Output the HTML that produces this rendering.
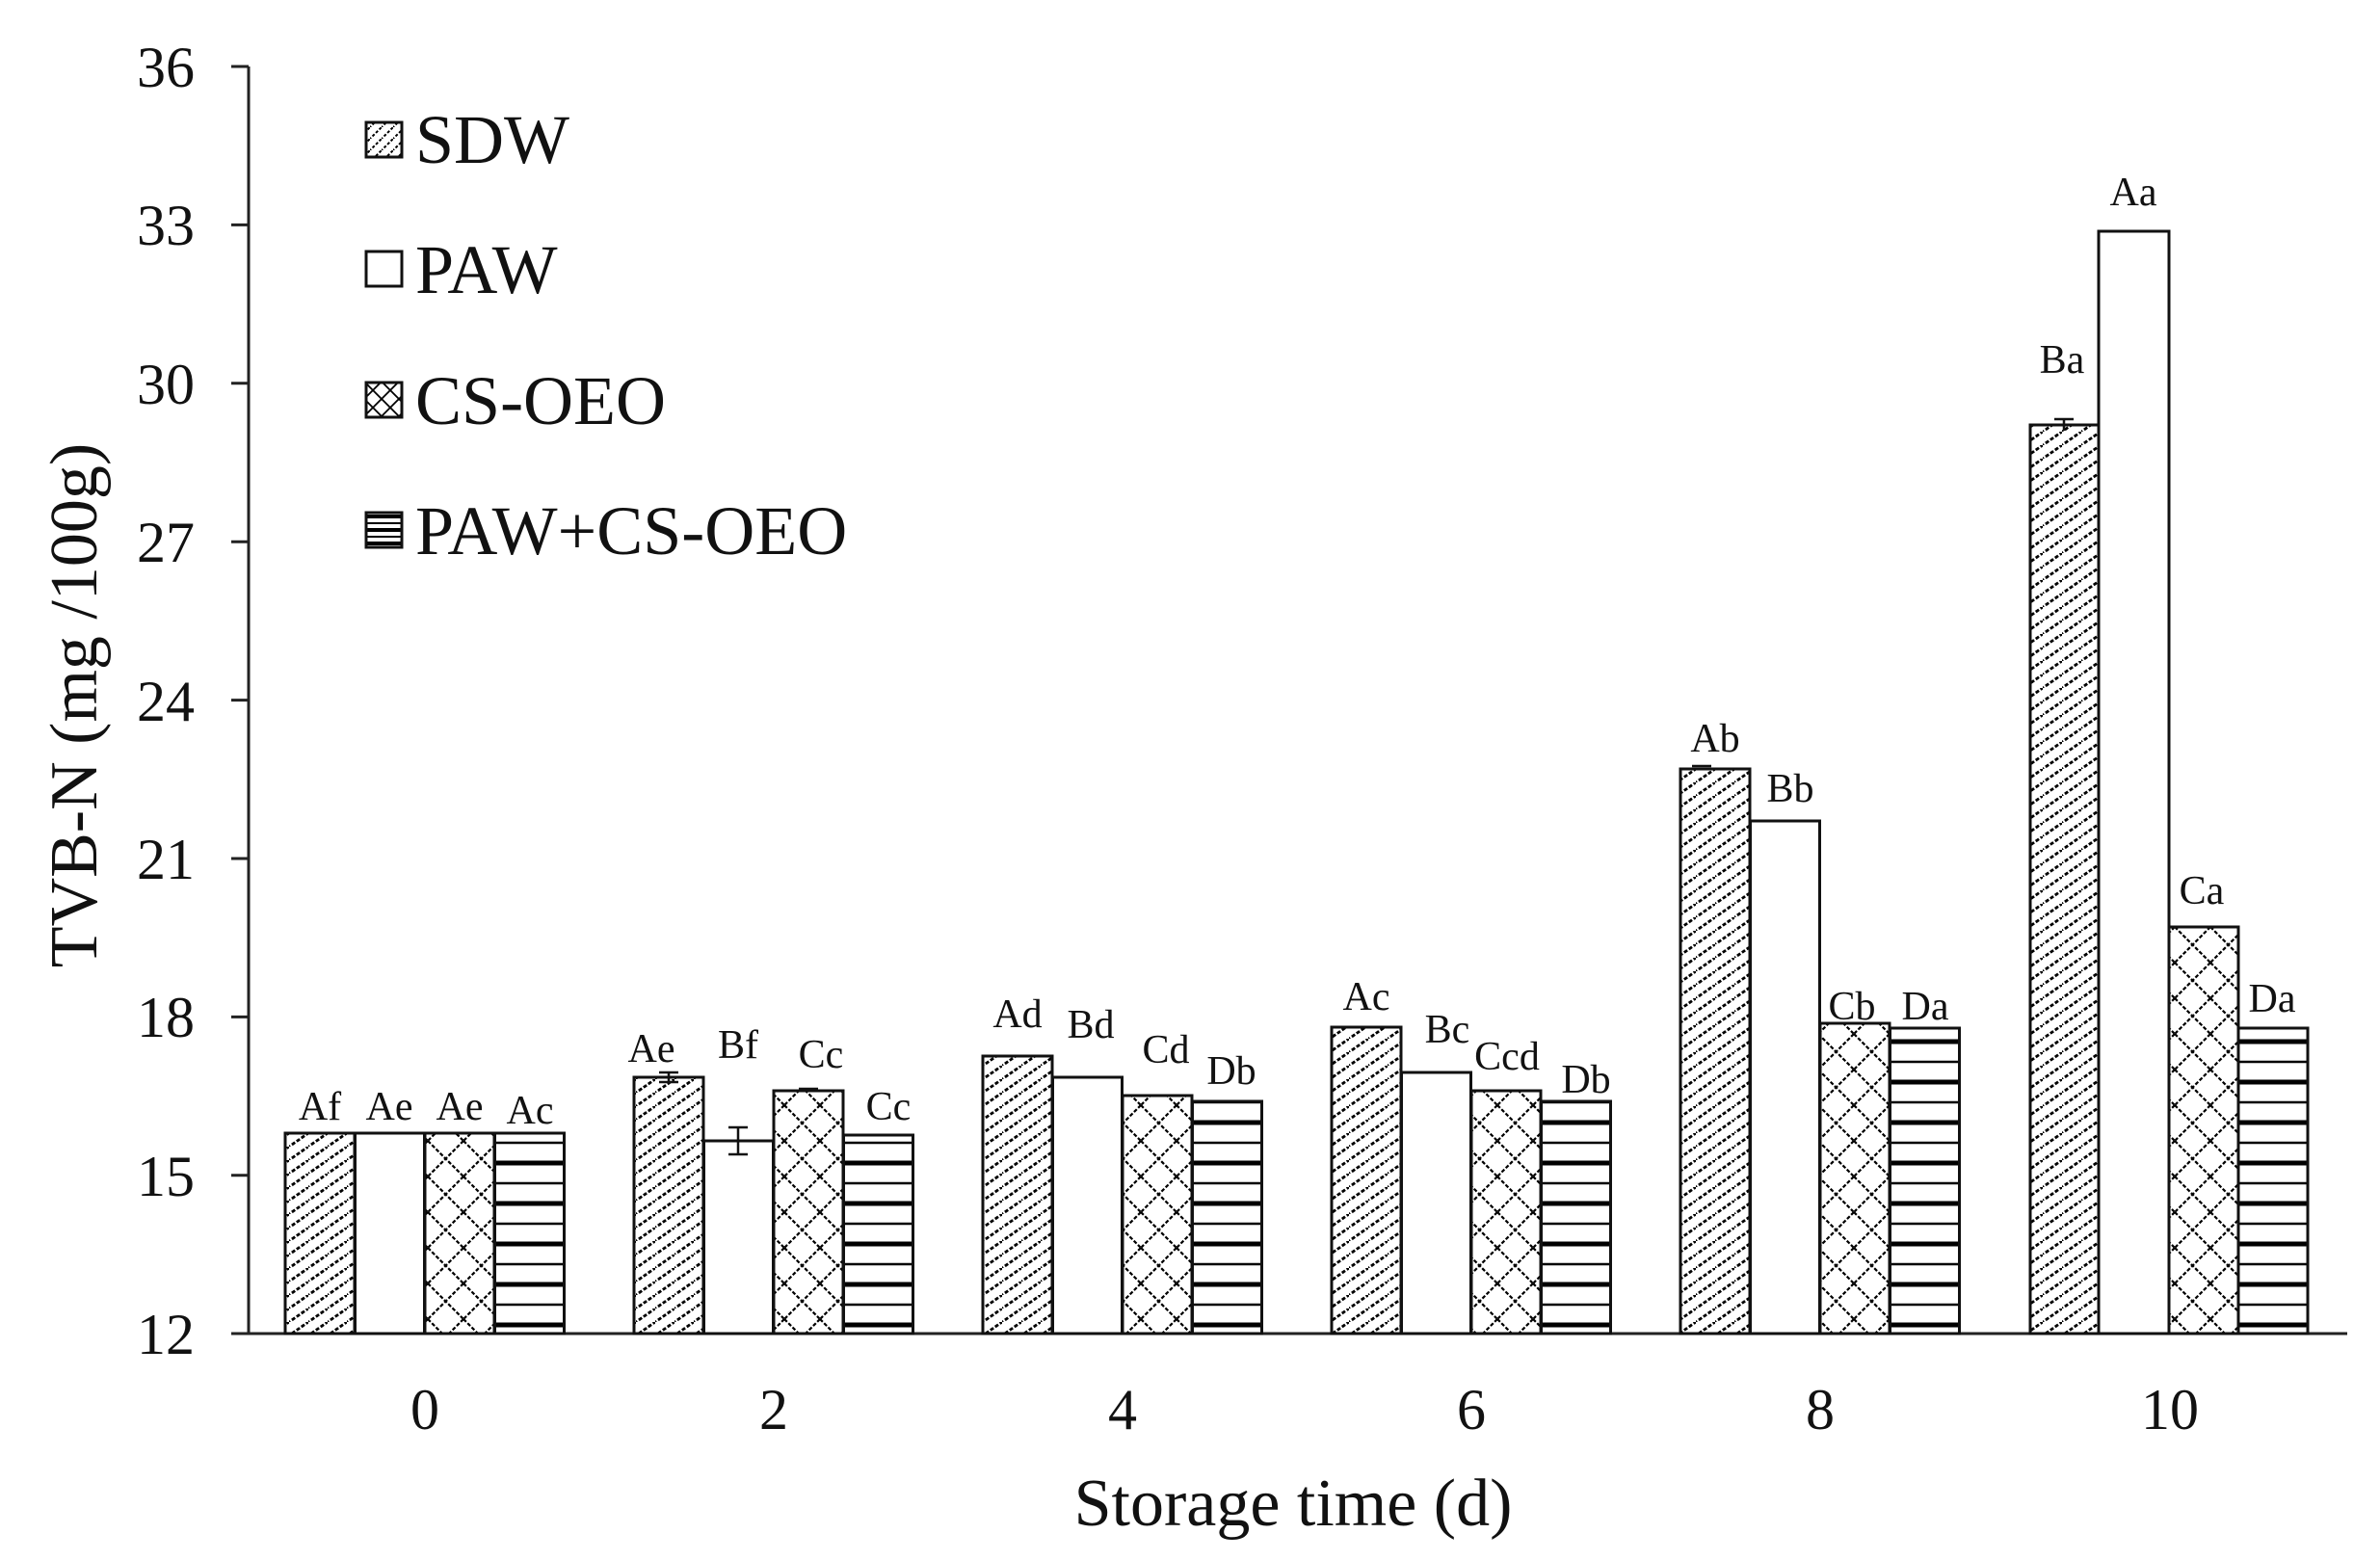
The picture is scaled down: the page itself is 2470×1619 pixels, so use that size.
<!DOCTYPE html>
<html><head><meta charset="utf-8"><style>
html,body{margin:0;padding:0;background:#fff;}
svg{display:block;font-family:"Liberation Serif",serif;}
</style></head><body>
<svg width="2470" height="1619" viewBox="0 0 2470 1619" xmlns="http://www.w3.org/2000/svg">
<defs>
<pattern id="diag" patternUnits="userSpaceOnUse" width="20" height="14">
<line x1="-2" y1="15.4" x2="22" y2="-1.4" stroke="#000" stroke-width="2.8" stroke-dasharray="4 2"/>
</pattern>
<pattern id="cross" patternUnits="userSpaceOnUse" width="37" height="37">
<line x1="0" y1="0" x2="37" y2="37" stroke="#000" stroke-width="2.2" stroke-dasharray="4 2"/>
<line x1="37" y1="0" x2="0" y2="37" stroke="#000" stroke-width="2.2" stroke-dasharray="4 2"/>
</pattern>
<pattern id="horiz" patternUnits="userSpaceOnUse" width="10" height="42">
<line x1="0" y1="10" x2="10" y2="10" stroke="#000" stroke-width="2.5"/>
<line x1="0" y1="31" x2="10" y2="31" stroke="#000" stroke-width="5"/>
</pattern>
<pattern id="ldiag" patternUnits="userSpaceOnUse" width="12" height="12">
<line x1="-1" y1="13" x2="13" y2="-1" stroke="#000" stroke-width="2" stroke-dasharray="3 2"/>
</pattern>
<pattern id="lcross" patternUnits="userSpaceOnUse" width="18" height="18">
<line x1="0" y1="0" x2="18" y2="18" stroke="#000" stroke-width="1.8"/>
<line x1="18" y1="0" x2="0" y2="18" stroke="#000" stroke-width="1.8"/>
</pattern>
<pattern id="lhoriz" patternUnits="userSpaceOnUse" width="10" height="14">
<line x1="0" y1="4" x2="10" y2="4" stroke="#000" stroke-width="4"/>
<line x1="0" y1="11" x2="10" y2="11" stroke="#000" stroke-width="2"/>
</pattern>
</defs>

<g stroke="#222" stroke-width="3" fill="none">
<line x1="258" y1="69" x2="258" y2="1384"/>
<line x1="240" y1="1384" x2="2436" y2="1384"/>
<line x1="240" y1="69" x2="258" y2="69"/>
<line x1="240" y1="233.4" x2="258" y2="233.4"/>
<line x1="240" y1="397.8" x2="258" y2="397.8"/>
<line x1="240" y1="562.2" x2="258" y2="562.2"/>
<line x1="240" y1="726.6" x2="258" y2="726.6"/>
<line x1="240" y1="891" x2="258" y2="891"/>
<line x1="240" y1="1055.4" x2="258" y2="1055.4"/>
<line x1="240" y1="1219.8" x2="258" y2="1219.8"/>
</g>
<g font-size="60" text-anchor="end" fill="#111">
<text x="202" y="90">36</text>
<text x="202" y="254">33</text>
<text x="202" y="419">30</text>
<text x="202" y="583">27</text>
<text x="202" y="748">24</text>
<text x="202" y="912">21</text>
<text x="202" y="1076">18</text>
<text x="202" y="1241">15</text>
<text x="202" y="1405">12</text>
</g>
<g font-size="60" text-anchor="middle" fill="#111">
<text x="441" y="1483">0</text>
<text x="803" y="1483">2</text>
<text x="1165" y="1483">4</text>
<text x="1527" y="1483">6</text>
<text x="1889" y="1483">8</text>
<text x="2252" y="1483">10</text>
</g>
<text x="1342" y="1583" font-size="70" text-anchor="middle" fill="#111">Storage time (d)</text>
<text transform="translate(100,732) rotate(-90)" font-size="70" text-anchor="middle" fill="#111">TVB-N (mg /100g)</text>

<g stroke="#111" stroke-width="3">
<rect x="296" y="1176" width="72" height="208" fill="url(#diag)"/>
<rect x="368.5" y="1176" width="72" height="208" fill="#fff"/>
<rect x="441" y="1176" width="72" height="208" fill="url(#cross)"/>
<rect x="513.5" y="1176" width="72" height="208" fill="url(#horiz)"/>
<rect x="658" y="1118" width="72" height="266" fill="url(#diag)"/>
<rect x="730.5" y="1184" width="72" height="200" fill="#fff"/>
<rect x="803" y="1132" width="72" height="252" fill="url(#cross)"/>
<rect x="875.5" y="1178" width="72" height="206" fill="url(#horiz)"/>
<rect x="1020" y="1096" width="72" height="288" fill="url(#diag)"/>
<rect x="1092.5" y="1118" width="72" height="266" fill="#fff"/>
<rect x="1165" y="1137" width="72" height="247" fill="url(#cross)"/>
<rect x="1237.5" y="1143" width="72" height="241" fill="url(#horiz)"/>
<rect x="1382" y="1066" width="72" height="318" fill="url(#diag)"/>
<rect x="1454.5" y="1113" width="72" height="271" fill="#fff"/>
<rect x="1527" y="1132" width="72" height="252" fill="url(#cross)"/>
<rect x="1599.5" y="1143" width="72" height="241" fill="url(#horiz)"/>
<rect x="1744" y="798" width="72" height="586" fill="url(#diag)"/>
<rect x="1816.5" y="852" width="72" height="532" fill="#fff"/>
<rect x="1889" y="1062" width="72" height="322" fill="url(#cross)"/>
<rect x="1961.5" y="1067" width="72" height="317" fill="url(#horiz)"/>
<rect x="2107" y="441" width="71" height="943" fill="url(#diag)"/>
<rect x="2178" y="240" width="73" height="1144" fill="#fff"/>
<rect x="2251" y="962" width="72" height="422" fill="url(#cross)"/>
<rect x="2323" y="1067" width="72" height="317" fill="url(#horiz)"/>
</g>
<g stroke="#111" stroke-width="2.5">
<line x1="684" y1="1113" x2="704" y2="1113"/><line x1="684" y1="1123" x2="704" y2="1123"/><line x1="694" y1="1113" x2="694" y2="1123"/>
<line x1="756" y1="1170" x2="776" y2="1170"/><line x1="756" y1="1198" x2="776" y2="1198"/><line x1="766" y1="1170" x2="766" y2="1198"/>
<line x1="829" y1="1130" x2="849" y2="1130"/>
<line x1="1756" y1="795" x2="1776" y2="795"/>
<line x1="2132" y1="435" x2="2152" y2="435"/><line x1="2142" y1="435" x2="2142" y2="447"/>
</g>

<g font-size="42" text-anchor="middle" fill="#111">
<text x="332" y="1162">Af</text>
<text x="404" y="1162">Ae</text>
<text x="477" y="1162">Ae</text>
<text x="550" y="1166">Ac</text>
<text x="676" y="1102">Ae</text>
<text x="766" y="1098">Bf</text>
<text x="852" y="1108">Cc</text>
<text x="922" y="1162">Cc</text>
<text x="1056" y="1066">Ad</text>
<text x="1132" y="1077">Bd</text>
<text x="1210" y="1103">Cd</text>
<text x="1278" y="1125">Db</text>
<text x="1418" y="1048">Ac</text>
<text x="1502" y="1082">Bc</text>
<text x="1564" y="1110">Ccd</text>
<text x="1646" y="1134">Db</text>
<text x="1780" y="780">Ab</text>
<text x="1858" y="832">Bb</text>
<text x="1922" y="1058">Cb</text>
<text x="1998" y="1058">Da</text>
<text x="2140" y="387">Ba</text>
<text x="2214" y="213">Aa</text>
<text x="2285" y="938">Ca</text>
<text x="2358" y="1050">Da</text>
</g>

<g stroke="#111" stroke-width="3">
<rect x="380" y="127" width="37" height="36" fill="url(#ldiag)"/>
<rect x="380" y="261" width="37" height="36" fill="#fff"/>
<rect x="380" y="397" width="37" height="36" fill="url(#lcross)"/>
<rect x="380" y="532" width="37" height="36" fill="url(#lhoriz)"/>
</g>
<g font-size="72" fill="#111">
<text x="431" y="169">SDW</text>
<text x="431" y="304">PAW</text>
<text x="431" y="440">CS-OEO</text>
<text x="431" y="575">PAW+CS-OEO</text>
</g>
</svg>
</body></html>
